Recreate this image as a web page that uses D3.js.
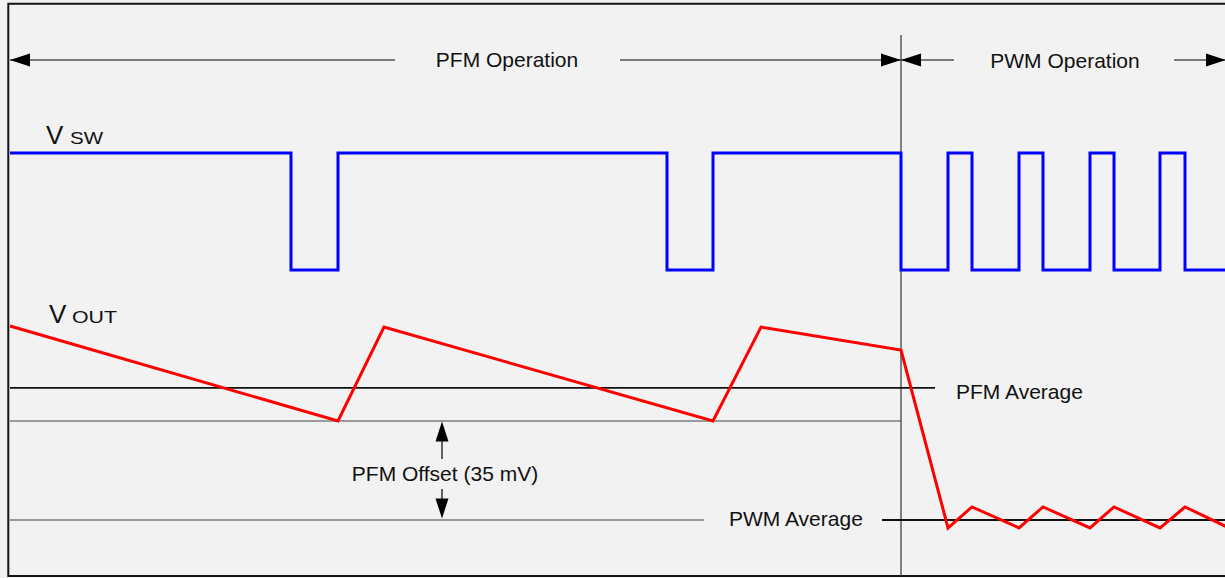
<!DOCTYPE html>
<html><head><meta charset="utf-8">
<script src="https://cdn.jsdelivr.net/npm/d3@7"></script>
<style>html,body{margin:0;padding:0;background:#f2f2f2;overflow:hidden}svg{display:block}text{font-family:"Liberation Sans",Arial,sans-serif;fill:#111}</style>
</head><body>
<svg id="c" width="1225" height="578"></svg>
<script>
// ---- data (time in arbitrary units, voltages in mV relative to PWM average) ----
const vswTimes  = [0, 281, 328, 657, 703, 891, 938, 962, 1009, 1033, 1080, 1104, 1150, 1175, 1216];
const vswStates = [1, 0, 1, 0, 1, 0, 1, 0, 1, 0, 1, 0, 1, 0, 0];
const voutTimes = [0, 328, 374, 703, 751, 891, 938, 962, 1009, 1033, 1080, 1104, 1150, 1175, 1216];
const voutMv    = [68.6, 35, 68.2, 35, 68.2, 60.1, -2.8, 4.6, -2.8, 4.6, -2.8, 4.6, -2.8, 4.6, -2.3];
const pfmAverageMv = 46.7;
const pfmValleyMv  = 35;
const pwmAverageMv = 0;
const modeBoundary = 891;
const modeLabels = ["PFM Operation", "PWM Operation"];
const levelLabels = ["PFM Average", "PWM Average", "PFM Offset (35 mV)"];

const svg = d3.select("#c");
const x = d3.scaleLinear().domain([0, 1215]).range([10, 1225]);
const ySw = d3.scaleLinear().domain([0, 1]).range([270, 153]);
const yV = d3.scaleLinear().domain([0, 35]).range([520, 421]);

const xb = x(modeBoundary);

// frame
svg.append("path").attr("d", `M1230,3.7 H8.3 V576 H1230`).attr("fill","none").attr("stroke","#151515").attr("stroke-width",2);

// arrowhead helper
function head(tipX, tipY, dir) { // dir: 'l','r','u','d'
  const L = 20, W = 6.5;
  let pts;
  if (dir==='l') pts=[[tipX,tipY],[tipX+L,tipY-W],[tipX+L,tipY+W]];
  if (dir==='r') pts=[[tipX,tipY],[tipX-L,tipY-W],[tipX-L,tipY+W]];
  if (dir==='u') pts=[[tipX,tipY],[tipX-W,tipY+L],[tipX+W,tipY+L]];
  if (dir==='d') pts=[[tipX,tipY],[tipX-W,tipY-L],[tipX+W,tipY-L]];
  svg.append("polygon").attr("points", pts.map(p=>p.join(",")).join(" ")).attr("fill","#000");
}
function line(x1,y1,x2,y2,w,c){svg.append("line").attr("x1",x1).attr("y1",y1).attr("x2",x2).attr("y2",y2).attr("stroke",c||"#000").attr("stroke-width",w||1.2);}

// mode arrows at top
const ya = 60;
line(x(0), ya, 395, ya); head(x(0), ya, 'l');
line(620, ya, xb, ya); head(xb, ya, 'r');
line(xb, ya, 954, ya); head(xb, ya, 'l');
line(1174, ya, 1226, ya); head(1226, ya, 'r');
svg.append("text").attr("x",507).attr("y",67).attr("text-anchor","middle").attr("font-size",21).text(modeLabels[0]);
svg.append("text").attr("x",1065).attr("y",68).attr("text-anchor","middle").attr("font-size",21).text(modeLabels[1]);

// vertical divider
line(xb, 35, xb, 576, 1.2, "#333");

// level lines
line(x(0), yV(pfmAverageMv), 935, yV(pfmAverageMv), 1.6, "#111");
line(x(0), yV(pfmValleyMv), xb, yV(pfmValleyMv), 1.1, "#444");
line(x(0), yV(pwmAverageMv), 704, yV(pwmAverageMv), 1.1, "#444");
line(882, yV(pwmAverageMv), 1226, yV(pwmAverageMv), 2, "#111");
svg.append("text").attr("x",956).attr("y",398.5).attr("font-size",21).text(levelLabels[0]);
svg.append("text").attr("x",729).attr("y",526).attr("font-size",21).text(levelLabels[1]);

// offset arrow
const xo = 442;
head(xo, yV(pfmValleyMv)+0.5, 'u'); line(xo, yV(pfmValleyMv)+15, xo, 459);
line(xo, 489, xo, yV(pwmAverageMv)-15); head(xo, yV(pwmAverageMv)-1.5, 'd');
svg.append("text").attr("x",445).attr("y",480.5).attr("text-anchor","middle").attr("font-size",21).text(levelLabels[2]);

// VSW trace
const sw = vswTimes.map((t,i)=>[t, vswStates[i]]);
svg.append("path").datum(sw)
  .attr("d", d3.line().x(d=>x(d[0])).y(d=>ySw(d[1])).curve(d3.curveStepAfter))
  .attr("fill","none").attr("stroke","#0000ff").attr("stroke-width",3);

// VOUT trace
const vo = voutTimes.map((t,i)=>[t, voutMv[i]]);
svg.append("path").datum(vo)
  .attr("d", d3.line().x(d=>x(d[0])).y(d=>yV(d[1])))
  .attr("fill","none").attr("stroke","#ff0000").attr("stroke-width",3).attr("stroke-linejoin","miter");

// labels
svg.append("text").attr("x",46).attr("y",144).attr("font-size",26).text("V");
svg.append("text").attr("x",70).attr("y",144).attr("font-size",17).attr("textLength",33).attr("lengthAdjust","spacingAndGlyphs").text("SW");
svg.append("text").attr("x",49).attr("y",323).attr("font-size",26).text("V");
svg.append("text").attr("x",72).attr("y",323).attr("font-size",17).attr("textLength",45).attr("lengthAdjust","spacingAndGlyphs").text("OUT");
</script>
</body></html>
